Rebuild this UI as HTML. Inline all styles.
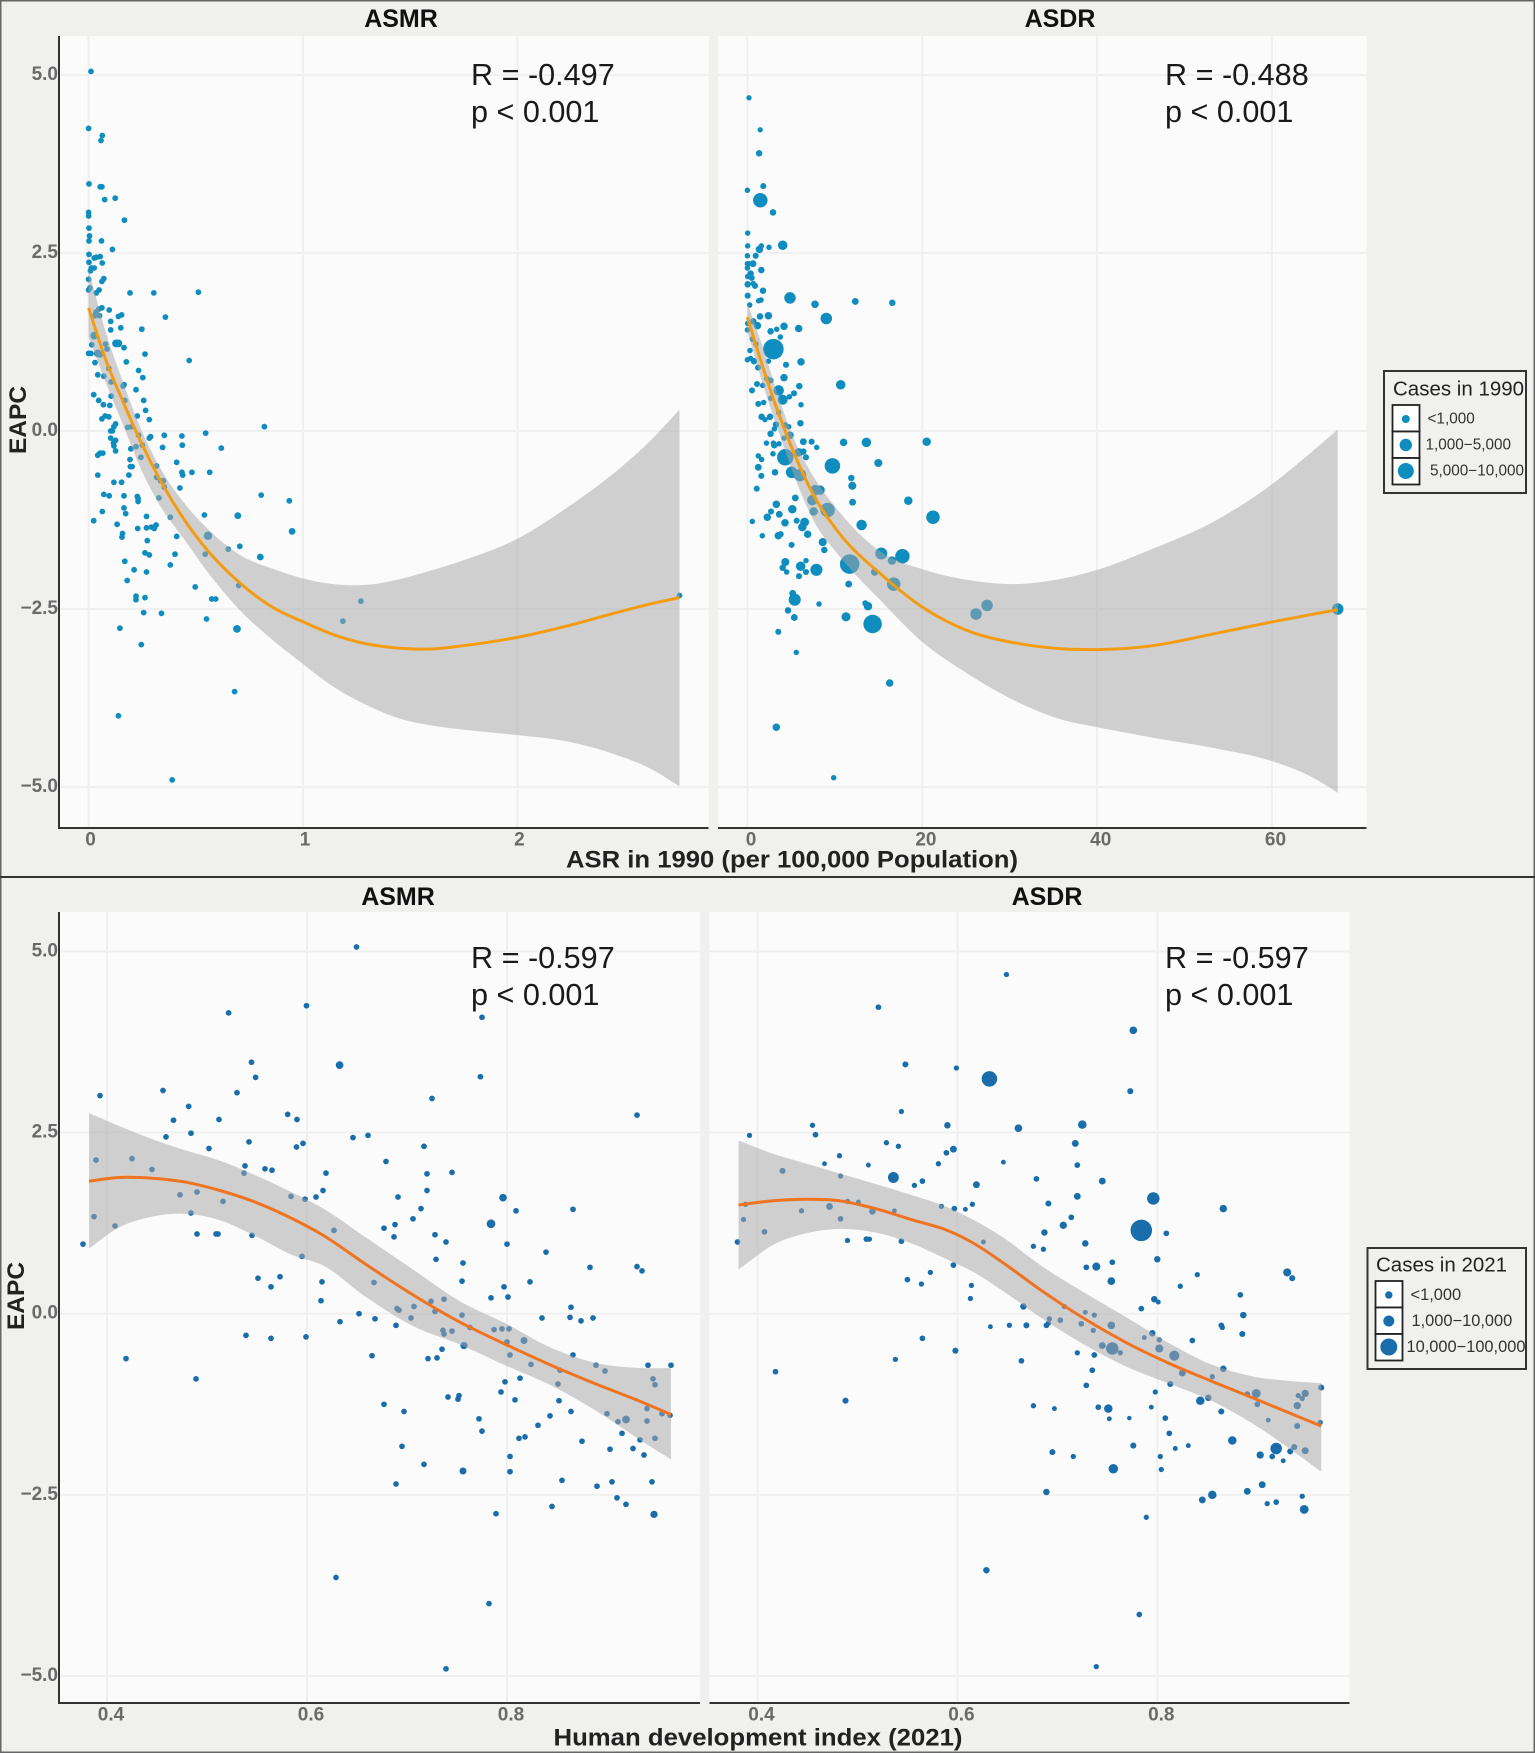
<!DOCTYPE html>
<html lang="en">
<head>
<meta charset="utf-8">
<title>EAPC versus ASR in 1990 and Human Development Index in 2021</title>
<style>
html,body{margin:0;padding:0;background:#f0f0ee}
svg{display:block;font-family:"Liberation Sans",sans-serif}
.strip{font-size:25px;font-weight:700;fill:#111;text-anchor:middle;dominant-baseline:central}
.axis-title{font-size:24.5px;font-weight:700;fill:#222;text-anchor:middle;dominant-baseline:central}
.annot{font-size:30.6px;fill:#1a1a1a;dominant-baseline:central}
.legend-title{font-size:20.5px;fill:#222;dominant-baseline:central}
.legend-label{fill:#333;dominant-baseline:central}
.tick{font-size:19px;font-weight:700;fill:#6a6a6a;dominant-baseline:central}
</style>
</head>
<body>
<svg id="figure" xmlns="http://www.w3.org/2000/svg" width="1535" height="1753" viewBox="0 0 1535 1753">
  <rect x="0.75" y="0.75" width="1533.5" height="1751.5" fill="#f0f0ee" stroke="#666" stroke-width="1.5"/>
  <line x1="0" y1="877" x2="1535" y2="877" stroke="#333" stroke-width="2"/>

  <g id="panel-layer"></g>

  <text class="strip" x="401" y="19">ASMR</text>
  <text class="strip" x="1060" y="19">ASDR</text>
  <text class="strip" x="398" y="897">ASMR</text>
  <text class="strip" x="1047" y="897">ASDR</text>

  <text class="axis-title" x="792" y="860" textLength="452" lengthAdjust="spacingAndGlyphs">ASR in 1990 (per 100,000 Population)</text>
  <text class="axis-title" x="758" y="1738" textLength="409" lengthAdjust="spacingAndGlyphs">Human development index (2021)</text>
  <text class="axis-title" transform="translate(18.5 420) rotate(-90)">EAPC</text>
  <text class="axis-title" transform="translate(16.5 1296) rotate(-90)">EAPC</text>

  <text class="annot" x="471" y="75">R = -0.497</text>
  <text class="annot" x="471" y="112">p &lt; 0.001</text>
  <text class="annot" x="1165" y="75">R = -0.488</text>
  <text class="annot" x="1165" y="112">p &lt; 0.001</text>
  <text class="annot" x="471" y="958">R = -0.597</text>
  <text class="annot" x="471" y="995">p &lt; 0.001</text>
  <text class="annot" x="1165" y="958">R = -0.597</text>
  <text class="annot" x="1165" y="995">p &lt; 0.001</text>

  <g>
    <rect x="1384" y="371" width="142" height="122" fill="#f0f0ee" stroke="#333" stroke-width="2"/>
    <text class="legend-title" x="1393" y="389">Cases in 1990</text>
    <rect x="1392.5" y="405" width="27" height="26.5" fill="#fff" stroke="#222" stroke-width="1.8"/>
    <rect x="1392.5" y="431.5" width="27" height="26.5" fill="#fff" stroke="#222" stroke-width="1.8"/>
    <rect x="1392.5" y="458" width="27" height="26.5" fill="#fff" stroke="#222" stroke-width="1.8"/>
    <circle cx="1405.8" cy="419" r="4" fill="#0f8dbf"/>
    <circle cx="1405.8" cy="445" r="6.2" fill="#0f8dbf"/>
    <circle cx="1405.8" cy="471" r="8" fill="#0f8dbf"/>
    <text class="legend-label" font-size="15.3" x="1427.5" y="419">&lt;1,000</text>
    <text class="legend-label" font-size="15.3" x="1425.5" y="445">1,000−5,000</text>
    <text class="legend-label" font-size="15.3" x="1430" y="471">5,000−10,000</text>
  </g>

  <g>
    <rect x="1367.5" y="1248" width="158.5" height="121" fill="#f0f0ee" stroke="#333" stroke-width="2"/>
    <text class="legend-title" x="1376" y="1265">Cases in 2021</text>
    <rect x="1375.5" y="1281" width="27" height="26.5" fill="#fff" stroke="#222" stroke-width="1.8"/>
    <rect x="1375.5" y="1307.5" width="27" height="26.5" fill="#fff" stroke="#222" stroke-width="1.8"/>
    <rect x="1375.5" y="1334" width="27" height="26.5" fill="#fff" stroke="#222" stroke-width="1.8"/>
    <circle cx="1388.8" cy="1295" r="3.7" fill="#1a6dab"/>
    <circle cx="1388.8" cy="1321" r="5.5" fill="#1a6dab"/>
    <circle cx="1388.8" cy="1347" r="8.5" fill="#1a6dab"/>
    <text class="legend-label" font-size="16.4" x="1410.5" y="1295">&lt;1,000</text>
    <text class="legend-label" font-size="16.4" x="1411.5" y="1321">1,000−10,000</text>
    <text class="legend-label" font-size="16.4" x="1406.5" y="1347">10,000−100,000</text>
  </g>
</svg>

<script>
const eapcTicks = [-5, -2.5, 0, 2.5, 5];
const eapcTickLabels = ['−5.0', '−2.5', '0.0', '2.5', '5.0'];
const asrMortalityTicks = [0, 1, 2];
const asrDalyTicks = [0, 20, 40, 60];
const hdiTicks = [0.4, 0.6, 0.8];

/* Panel 1: ASMR vs ASR in 1990 */
const asmr1990X = [.011,0,.064,.058,.002,.054,.062,.075,.124,0,0,.167,.002,.004,.002,.06,.111,.002,.054,.036,.026,.002,.064,.013,.026,.009,.071,.062,0,.006,0,.049,.036,.193,.304,.512,.062,.047,.096,.034,.03,.051,.358,.154,.139,.103,.15,.248,.103,.079,.015,.086,.165,.263,0,.011,.054,.176,.469,.03,.233,.043,.071,.253,.094,.105,.165,.161,.221,.024,.105,.047,.169,.257,.069,.099,.266,.077,.094,.227,.062,.283,.126,.118,.103,.201,.182,.111,.82,.546,.233,.289,.353,.435,.283,.103,.116,.126,.221,.197,.437,.619,.118,.126,.345,.251,.054,.066,.043,.244,.193,.411,.195,.203,.317,.435,.439,.482,.565,.043,.188,.317,.336,.349,.118,.154,.353,.426,.071,.096,.165,.805,.227,.231,.231,.328,.936,.165,.064,.173,.54,.27,.024,.381,.133,.315,.229,.27,.293,.306,.158,.156,.411,.274,.705,.651,.263,.283,.403,.544,.169,.212,.27,.381,.18,.497,.70,.221,.221,.263,.574,.593,.257,.34,1.27,.55,1.186,2.756,.146,.246,.681,.139,.39];
const asmr1990Y = [5.05,4.25,4.15,4.08,3.47,3.43,3.43,3.25,3.27,3.07,3.02,2.96,2.85,2.74,2.67,2.67,2.55,2.48,2.45,2.44,2.43,2.37,2.36,2.29,2.29,2.25,2.14,2.10,2.13,2.01,1.98,1.98,1.94,1.94,1.94,1.95,1.73,1.71,1.70,1.67,1.62,1.62,1.60,1.63,1.61,1.54,1.45,1.43,1.42,1.22,1.21,1.15,1.17,1.08,1.09,1.09,1.07,.97,.99,.96,.85,.79,.77,.75,.88,.69,.65,.63,.58,.51,.49,.43,.43,.43,.37,.36,.29,.21,.20,.21,.17,.16,.10,.06,0,.06,.05,0,.06,-.03,-.06,-.08,-.06,-.07,-.10,-.10,-.17,-.13,-.22,-.25,-.20,-.24,-.21,-.28,-.23,-.20,-.31,-.31,-.34,-.37,-.40,-.44,-.50,-.50,-.49,-.58,-.62,-.58,-.58,-.62,-.62,-.65,-.70,-.70,-.72,-.72,-.79,-.80,-.89,-.91,-.91,-.90,-.92,-.95,-.99,-.94,-.98,-1.08,-1.13,-1.16,-1.18,-1.20,-1.26,-1.21,-1.31,-1.32,-1.37,-1.36,-1.35,-1.37,-1.44,-1.49,-1.48,-1.54,-1.62,-1.66,-1.71,-1.74,-1.73,-1.73,-1.83,-1.95,-1.98,-1.88,-2.10,-2.19,-2.17,-2.32,-2.37,-2.34,-2.36,-2.36,-2.55,-2.56,-2.39,-2.64,-2.67,-2.31,-2.77,-3.0,-3.66,-4.0,-4.9];
const asmr1990SmallCases = 700;
const asmr1990LargerX = [.128,.139,.557,.692,.043,.026,.949,.801,.696];
const asmr1990LargerY = [1.23,1.23,-1.47,-2.78,1.09,1.34,-1.41,-1.77,-1.19];
const asmr1990LargerCases = [1300,1300,1600,1300,1300,1300,1000,1000,1000];
const asmr1990FitX = [0,.079,.165,.251,.336,.443,.55,.7,.872,.986,1.141,1.297,1.452,1.608,1.763,1.996,2.23,2.463,2.619,2.756];
const asmr1990Fit = [1.73,1.01,.38,-.20,-.70,-1.23,-1.66,-2.12,-2.50,-2.66,-2.86,-2.99,-3.05,-3.06,-3.01,-2.90,-2.74,-2.55,-2.43,-2.34];
const asmr1990Upper = [2.27,1.40,.65,-.02,-.53,-1.0,-1.36,-1.73,-1.95,-2.06,-2.15,-2.16,-2.08,-1.95,-1.80,-1.52,-1.08,-.56,-.14,.30];
const asmr1990Lower = [1.32,.69,.05,-.58,-1.06,-1.51,-1.96,-2.50,-2.97,-3.24,-3.59,-3.85,-4.04,-4.14,-4.20,-4.27,-4.36,-4.55,-4.74,-4.99];

/* Panel 2: ASDR vs ASR in 1990 */
const asdr1990X = [.18,1.46,1.34,1.82,0,1.48,2.93,.03,.03,2.47,
1.59,1.37,4.04,.95,0,0,.64,.22,0,1.59,
.37,.03,.49,.03,.68,.87,1.78,1.56,1.29,.03,
4.87,7.73,12.35,16.58,.26,9.03,1.44,2.40,.68,.03,
1.14,0,2.66,3.35,4.19,5.87,3.77,.56,.98,2.97,
.30,2.40,0,.37,.76,4.42,6.13,1.21,4.19,2.20,
2.66,1.10,1.75,5.94,10.67,.53,3.58,5.33,4.80,4.04,
2.66,1.25,1.86,6.13,1.63,2.01,2.59,3.58,3.27,3.08,
4.30,4.72,6.06,2.66,4.19,4.87,2.17,2.97,3.08,3.62,
6.40,7.35,7.93,11.01,13.61,20.51,1.25,1.63,2.93,4.34,
5.87,6.40,6.71,9.72,14.98,1.25,3.16,5.06,6.02,1.59,
11.89,1.06,12.0,5.48,12.04,18.41,3.31,2.70,5.14,3.65,
2.28,.56,4.30,5.64,6.55,6.28,21.24,1.71,3.54,3.81,
6.90,8.61,5.06,8.80,13.07,7.77,8.31,7.43,7.58,9.18,
15.32,16.54,17.73,11.70,14.56,16.74,6.71,4.34,4.04,4.49,
6.10,6.71,7.89,5.90,11.59,5.18,5.41,8.19,13.49,13.80,
4.65,5.37,11.28,14.33,3.54,5.60,16.28,3.31,26.16,27.42,
67.54,9.87];
const asdr1990Y = [4.68,4.23,3.90,3.44,3.38,3.24,3.07,2.78,2.60,2.58,
2.60,2.55,2.61,2.46,2.46,2.35,2.35,2.35,2.29,2.26,
2.21,2.17,2.15,2.06,2.07,2.04,1.97,1.84,1.83,1.90,
1.87,1.78,1.82,1.80,1.77,1.58,1.61,1.62,1.54,1.51,
1.48,1.42,1.40,1.43,1.47,1.44,1.32,1.29,1.22,1.15,
1.13,.98,1.0,1.02,.98,.93,.97,.89,.75,.74,
.71,.66,.64,.63,.65,.57,.57,.53,.48,.44,
.46,.38,.40,.37,.20,.16,.20,.26,.09,.03,
.08,.06,.11,-.04,-.10,-.06,-.17,-.17,-.20,-.18,
-.15,-.15,-.23,-.16,-.16,-.15,-.35,-.40,-.32,-.37,
-.30,-.29,-.37,-.49,-.45,-.51,-.58,-.58,-.62,-.63,
-.66,-.81,-.77,-.94,-1.0,-.98,-1.03,-1.13,-1.10,-1.17,
-1.21,-1.27,-1.29,-1.26,-1.28,-1.35,-1.21,-1.47,-1.47,-1.45,
-1.45,-1.56,-1.60,-1.67,-1.32,-.83,-.83,-.97,-1.13,-1.11,
-1.72,-1.82,-1.76,-1.87,-1.98,-2.15,-1.82,-1.84,-1.92,-1.98,
-1.90,-1.98,-1.95,-2.04,-2.15,-2.28,-2.37,-2.43,-2.42,-2.46,
-2.52,-2.62,-2.61,-2.71,-2.82,-3.11,-3.54,-4.16,-2.57,-2.45,
-2.5,-4.87];
const asdr1990Cases = [580,580,900,780,630,4900,900,630,630,630,
630,1230,2030,780,630,630,1020,630,630,900,
900,630,780,900,630,780,900,630,630,780,
3030,1230,1020,900,630,3030,900,1230,900,630,
1230,630,900,630,1230,1230,630,630,630,10000,
630,630,630,630,900,780,1230,780,1230,630,
780,780,630,900,2030,780,2500,780,630,2300,
630,780,630,630,900,630,900,630,900,630,
900,630,900,900,630,1230,630,630,900,630,
1020,780,630,1230,2030,1600,630,630,630,6400,
1600,900,780,5630,1440,1020,900,3030,3600,780,
900,780,1440,1020,1020,1600,1230,780,1600,1020,
1230,630,1230,780,1760,1600,4230,630,1230,780,
1230,1440,780,900,2500,2500,2030,2500,1600,4900,
3360,1600,4900,9030,1230,4230,630,1440,900,630,
2030,780,3360,780,1020,1020,3360,630,780,1600,
900,1020,1850,8100,780,630,1230,1230,3030,3030,
3030,630];
const asdr1990FitX = [0,1.89,3.71,5.54,7.67,10.41,15.55,19.98,25.09,30.81,36.15,40.04,46.07,53.7,60.1,64.4,67.54];
const asdr1990Fit = [1.60,.85,.20,-.37,-.92,-1.42,-2.04,-2.47,-2.80,-2.98,-3.06,-3.07,-3.02,-2.84,-2.68,-2.58,-2.51];
const asdr1990Upper = [1.80,1.13,.42,-.17,-.66,-1.12,-1.72,-1.94,-2.09,-2.15,-2.07,-1.95,-1.67,-1.25,-.74,-.31,.02];
const asdr1990Lower = [1.40,.61,-.06,-.69,-1.28,-1.74,-2.42,-2.96,-3.40,-3.80,-4.06,-4.16,-4.30,-4.46,-4.64,-4.85,-5.08];

/* Panel 3: ASMR vs HDI 2021 */
const asmrHdiX = [.6495,.5995,.5216,.775,.5445,.5486,.7734,.456,.53,.393,.725,.4817,.5807,.93,.59,.4665,.512,.459,.484,.646,.661,.717,.502,.5895,.596,.542,.389,.425,.679,.445,.538,.537,.558,.565,.619,.72,.745,.616,.72,.49,.473,.584,.598,.609,.691,.516,.484,.387,.714,.866,.809,.706,.408,.677,.688,.627,.49,.509,.511,.545,.728,.687,.376,.739,.80,.839,.595,.729,.756,.883,.93,.935,.551,.573,.615,.667,.755,.823,.564,.797,.784,.801,.614,.724,.737,.69,.692,.707,.864,.728,.652,.755,.704,.668,.835,.863,.886,.874,.633,.689,.763,.787,.795,.802,.745,.736,.737,.539,.564,.599,.80,.735,.665,.803,.866,.721,.73,.419,.824,.889,.941,.964,.898,.853,.489,.813,.798,.946,.948,.851,.794,.741,.752,.751,.852,.808,.677,.94,.697,.864,.955,.963,.843,.90,.772,.911,.94,.831,.775,.915,.812,.818,.875,.933,.948,.695,.903,.926,.937,.803,.717,.803,.689,.855,.905,.945,.89,.91,.845,.919,.789,.629,.782,.739];
const asmrHdiY = [5.06,4.25,4.15,4.09,3.47,3.26,3.27,3.08,3.05,3.01,2.97,2.86,2.75,2.74,2.68,2.67,2.68,2.44,2.49,2.43,2.46,2.31,2.28,2.30,2.35,2.37,2.12,2.14,2.10,1.99,2.04,1.94,2.0,1.98,1.94,1.93,1.95,1.70,1.70,1.68,1.64,1.62,1.58,1.61,1.61,1.55,1.39,1.34,1.45,1.44,1.42,1.31,1.21,1.18,1.23,1.15,1.10,1.10,1.10,1.08,1.09,1.06,.96,.99,.96,.85,.79,.75,.70,.64,.65,.59,.49,.51,.44,.43,.45,.44,.37,.37,.22,.23,.18,.17,.20,.07,.05,.10,.09,.03,0,-.02,-.06,-.07,-.06,-.05,-.06,-.10,-.11,-.16,-.19,-.22,-.21,-.21,-.24,-.23,-.28,-.30,-.34,-.32,-.39,-.49,-.58,-.57,-.57,-.62,-.61,-.62,-.70,-.71,-.71,-.71,-.79,-.78,-.90,-.89,-.94,-.90,-.98,-.97,-1.08,-1.15,-1.13,-1.18,-1.20,-1.19,-1.25,-1.31,-1.35,-1.35,-1.38,-1.40,-1.41,-1.38,-1.45,-1.49,-1.48,-1.54,-1.62,-1.65,-1.72,-1.70,-1.76,-1.74,-1.72,-1.83,-1.87,-1.86,-1.95,-1.97,-2.08,-2.18,-2.35,-2.30,-2.32,-2.32,-2.38,-2.54,-2.66,-2.63,-2.76,-3.64,-4.0,-4.90];
const asmrHdiSmallCases = 680;
const asmrHdiLargerX = [.6326,.796,.784,.757,.756,.947,.919,.817];
const asmrHdiLargerY = [3.43,1.60,1.24,-.44,-2.17,-2.77,-1.46,-.37];
const asmrHdiLargerCases = [1300,1300,1700,1150,1050,1150,1300,1050];
const asmrHdiFitX = [.382,.412,.445,.477,.513,.55,.587,.614,.66,.706,.752,.798,.844,.889,.935,.964];
const asmrHdiFit = [1.83,1.88,1.87,1.82,1.70,1.53,1.30,1.10,.67,.26,-.11,-.42,-.71,-.97,-1.22,-1.39];
const asmrHdiUpper = [2.77,2.59,2.41,2.26,2.11,1.90,1.66,1.47,1.04,.61,.18,-.13,-.47,-.68,-.75,-.75];
const asmrHdiLower = [.90,1.19,1.34,1.38,1.29,1.06,.80,.68,.22,-.17,-.42,-.71,-.99,-1.34,-1.76,-2.01];

/* Panel 4: ASDR vs HDI 2021 */
const asdrHdiX = [.649,.521,.776,.548,.599,.632,.773,.544,.661,.455,
.59,.725,.392,.458,.529,.541,.718,.596,.589,.482,
.72,.646,.467,.511,.581,.425,.483,.679,.536,.745,
.565,.557,.619,.72,.796,.49,.501,.388,.691,.615,
.584,.472,.866,.444,.597,.608,.515,.537,.714,.386,
.483,.706,.407,.809,.687,.784,.509,.512,.49,.544,
.626,.38,.676,.728,.686,.80,.755,.596,.729,.739,
.93,.935,.84,.573,.55,.564,.754,.823,.614,.883,
.613,.797,.801,.707,.666,.784,.728,.737,.886,.692,
.703,.689,.691,.669,.652,.633,.724,.754,.864,.865,
.736,.885,.795,.787,.802,.835,.565,.598,.755,.745,
.763,.802,.817,.72,.737,.538,.664,.866,.735,.418,
.825,.855,.813,.798,.729,.89,.899,.941,.948,.945,
.964,.851,.843,.488,.90,.94,.676,.697,.741,.751,
.794,.864,.752,.772,.808,.911,.963,.94,.812,.875,
.776,.831,.818,.937,.948,.919,.933,.695,.716,.903,
.915,.926,.803,.756,.804,.905,.689,.89,.855,.845,
.945,.91,.919,.947,.789,.629,.782,.739];
const asdrHdiY = [4.68,4.23,3.91,3.44,3.39,3.24,3.07,2.79,2.56,2.60,
2.60,2.61,2.46,2.47,2.36,2.31,2.35,2.27,2.22,2.18,
2.05,2.09,2.07,2.05,2.07,1.97,1.90,1.86,1.88,1.83,
1.83,1.77,1.78,1.62,1.59,1.55,1.54,1.51,1.52,1.51,
1.48,1.48,1.45,1.42,1.45,1.44,1.41,1.42,1.33,1.30,
1.31,1.22,1.13,1.11,1.12,1.15,1.03,1.03,1.01,1.0,
.99,.99,.93,.97,.89,.75,.71,.67,.64,.65,
.57,.49,.54,.57,.47,.41,.45,.38,.39,.26,
.21,.20,.16,.10,.10,.07,.02,-.02,-.02,-.07,
-.09,-.16,-.13,-.16,-.16,-.18,-.14,-.16,-.16,-.19,
-.23,-.28,-.27,-.33,-.36,-.37,-.34,-.51,-.48,-.44,
-.54,-.48,-.58,-.54,-.57,-.63,-.65,-.76,-.78,-.80,
-.82,-.87,-.97,-1.08,-.99,-1.11,-1.10,-1.13,-1.10,-1.17,
-1.02,-1.16,-1.20,-1.20,-1.25,-1.27,-1.27,-1.31,-1.29,-1.31,
-1.29,-1.35,-1.45,-1.44,-1.44,-1.47,-1.50,-1.55,-1.65,-1.75,
-1.82,-1.82,-1.86,-1.84,-1.89,-1.86,-1.90,-1.91,-1.97,-1.95,
-1.97,-2.03,-1.97,-2.14,-2.15,-2.36,-2.46,-2.45,-2.50,-2.57,
-2.52,-2.62,-2.60,-2.70,-2.81,-3.54,-4.15,-4.87];
const asdrHdiCases = [580,680,1300,780,580,5630,780,580,1300,580,
900,1600,580,680,580,580,1020,1020,680,580,
680,480,480,480,580,780,580,680,2700,1020,
680,580,1020,1020,3600,580,480,580,780,580,
580,1020,1230,580,680,480,900,480,680,580,
680,1160,680,680,900,11030,680,580,580,680,
480,680,580,900,580,900,680,680,680,1440,
1440,780,580,580,680,580,1300,580,580,680,
580,900,480,580,900,680,480,580,900,580,
680,680,580,780,580,480,680,1300,680,580,
580,780,900,480,580,680,680,780,3600,1020,
580,1440,2300,580,680,580,680,900,680,680,
1020,580,780,580,680,680,1760,580,1160,580,
780,900,1600,780,680,1160,580,480,680,1600,
480,780,480,400,680,480,580,780,680,1600,
780,480,480,780,1020,3030,780,780,580,1160,
680,480,580,2030,580,1020,900,1020,1600,1020,
580,580,680,1760,580,900,680,580];
const asdrHdiFitX = [.381,.417,.449,.481,.518,.556,.588,.614,.646,.683,.726,.769,.811,.854,.897,.934,.964];
const asdrHdiFit = [1.50,1.56,1.58,1.56,1.45,1.29,1.16,.99,.70,.33,-.06,-.40,-.68,-.93,-1.17,-1.38,-1.55];
const asdrHdiUpper = [2.39,2.20,2.07,1.94,1.79,1.63,1.48,1.31,1.05,.67,.30,-.05,-.40,-.70,-.87,-.93,-.96];
const asdrHdiLower = [.61,.96,1.11,1.17,1.12,.96,.76,.59,.31,-.05,-.42,-.73,-.96,-1.20,-1.53,-1.88,-2.18];

const NS = 'http://www.w3.org/2000/svg';
const panelLayer = document.getElementById('panel-layer');

function make(parent, tag, attrs) {
  const el = document.createElementNS(NS, tag);
  for (const k in attrs) el.setAttribute(k, attrs[k]);
  parent.appendChild(el);
  return el;
}

/* Cubic Hermite through points ordered along x, with tangents from a three-point parabola
   so unevenly spaced points do not introduce wobble. */
function smoothPath(pts, continuing) {
  const n = pts.length;
  const slopes = [];
  for (let i = 0; i < n - 1; i++) slopes.push((pts[i + 1][1] - pts[i][1]) / (pts[i + 1][0] - pts[i][0]));
  const tangents = pts.map((pt, i) => {
    if (i === 0) return slopes[0];
    if (i === n - 1) return slopes[n - 2];
    const h0 = Math.abs(pts[i][0] - pts[i - 1][0]);
    const h1 = Math.abs(pts[i + 1][0] - pts[i][0]);
    return (h0 * slopes[i] + h1 * slopes[i - 1]) / (h0 + h1);
  });
  let d = (continuing ? 'L' : 'M') + pts[0][0].toFixed(1) + ' ' + pts[0][1].toFixed(1);
  for (let i = 0; i < n - 1; i++) {
    const dx = pts[i + 1][0] - pts[i][0];
    const c1x = pts[i][0] + dx / 3;
    const c1y = pts[i][1] + tangents[i] * dx / 3;
    const c2x = pts[i + 1][0] - dx / 3;
    const c2y = pts[i + 1][1] - tangents[i + 1] * dx / 3;
    d += 'C' + c1x.toFixed(1) + ' ' + c1y.toFixed(1) + ' ' + c2x.toFixed(1) + ' ' + c2y.toFixed(1) + ' ' + pts[i + 1][0].toFixed(1) + ' ' + pts[i + 1][1].toFixed(1);
  }
  return d;
}

function radiusFromCases(cases) {
  return 0.1 * Math.sqrt(cases) + 0.25;
}

function drawPoints(group, xs, ys, casesFor, sx, sy, color) {
  const n = Math.min(xs.length, ys.length);
  for (let i = 0; i < n; i++) {
    const dot = make(group, 'circle', {cx: sx(xs[i]).toFixed(1), cy: sy(ys[i]).toFixed(1), r: radiusFromCases(casesFor(i)).toFixed(2), fill: color});
    
    
  }
}

function drawPanel(p) {
  const sx = v => p.xOrigin + (v - p.xBase) * p.xUnit;
  const sy = v => p.yZero - v * p.yUnit;
  const g = make(panelLayer, 'g', {});
  
  

  const bg = make(g, 'rect', {x: p.left, y: p.top, width: p.right - p.left, height: p.bottom - p.top, fill: '#fbfbfb'});
  
  

  eapcTicks.forEach((t, i) => {
    const grid = make(g, 'line', {x1: p.left, x2: p.right, y1: sy(t), y2: sy(t), stroke: '#f0f0f0', 'stroke-width': 2});
    
    
    if (p.showY) {
      const lab = make(g, 'text', {class: 'tick', x: p.left - 1, y: sy(t) - 0.5, 'text-anchor': 'end'});
      
      
      lab.textContent = eapcTickLabels[i];
    }
  });
  p.xTicks.forEach(t => {
    const grid = make(g, 'line', {x1: sx(t), x2: sx(t), y1: p.top, y2: p.bottom, stroke: '#f0f0f0', 'stroke-width': 2});
    
    
    const lab = make(g, 'text', {class: 'tick', x: sx(t) + p.labelShift, y: p.bottom + 12, 'text-anchor': 'middle'});
    
    
    lab.textContent = p.xFormat(t);
  });

  const marks = make(g, 'g', {});
  
  
  p.series.forEach(s => drawPoints(marks, s.x, s.y, s.cases, sx, sy, p.color));

  const up = p.fitX.map((x, i) => [sx(x), sy(p.upper[i])]);
  const lo = p.fitX.map((x, i) => [sx(x), sy(p.lower[i])]).reverse();
  const ribbon = make(g, 'path', {d: smoothPath(up) + smoothPath(lo, true) + 'Z', fill: 'rgb(168,166,168)', 'fill-opacity': 0.52});
  
  

  const line = make(g, 'path', {d: smoothPath(p.fitX.map((x, i) => [sx(x), sy(p.fit[i])])), fill: 'none', stroke: p.lineColor, 'stroke-width': 3});
  
  

  if (p.showY) {
    const yAxis = make(g, 'line', {x1: p.left, x2: p.left, y1: p.top, y2: p.bottom + 1, stroke: '#333', 'stroke-width': 2});
    
    
  }
  const xAxis = make(g, 'line', {x1: p.left, x2: p.right, y1: p.bottom, y2: p.bottom, stroke: '#333', 'stroke-width': 2});
  
  
}

const integerLabel = t => String(t);
const decimalLabel = t => t.toFixed(1);

drawPanel({
  name: 'panel-asmr-1990', left: 59, right: 708.5, top: 36, bottom: 828, showY: true,
  xOrigin: 88.6, xBase: 0, xUnit: 214.4, yZero: 431, yUnit: 71.2, labelShift: 2,
  xTicks: asrMortalityTicks, xFormat: integerLabel, color: '#0f8dbf', lineColor: '#f39c12',
  series: [
    {x: asmr1990X, y: asmr1990Y, cases: () => asmr1990SmallCases},
    {x: asmr1990LargerX, y: asmr1990LargerY, cases: i => asmr1990LargerCases[i]}
  ],
  fitX: asmr1990FitX, fit: asmr1990Fit, upper: asmr1990Upper, lower: asmr1990Lower
});
drawPanel({
  name: 'panel-asdr-1990', left: 718, right: 1366.5, top: 36, bottom: 828, showY: false,
  xOrigin: 747.4, xBase: 0, xUnit: 8.74, yZero: 431, yUnit: 71.2, labelShift: 3.7,
  xTicks: asrDalyTicks, xFormat: integerLabel, color: '#0f8dbf', lineColor: '#f39c12',
  series: [{x: asdr1990X, y: asdr1990Y, cases: i => asdr1990Cases[i] || 630}],
  fitX: asdr1990FitX, fit: asdr1990Fit, upper: asdr1990Upper, lower: asdr1990Lower
});
drawPanel({
  name: 'panel-asmr-2021', left: 59, right: 700, top: 912, bottom: 1703, showY: true,
  xOrigin: 107, xBase: 0.4, xUnit: 1000, yZero: 1313.7, yUnit: 72.47, labelShift: 4,
  xTicks: hdiTicks, xFormat: decimalLabel, color: '#1a6dab', lineColor: '#ee7421',
  series: [
    {x: asmrHdiX, y: asmrHdiY, cases: () => asmrHdiSmallCases},
    {x: asmrHdiLargerX, y: asmrHdiLargerY, cases: i => asmrHdiLargerCases[i]}
  ],
  fitX: asmrHdiFitX, fit: asmrHdiFit, upper: asmrHdiUpper, lower: asmrHdiLower
});
drawPanel({
  name: 'panel-asdr-2021', left: 709.5, right: 1349.5, top: 912, bottom: 1703, showY: false,
  xOrigin: 757.5, xBase: 0.4, xUnit: 999.5, yZero: 1313.7, yUnit: 72.47, labelShift: 4,
  xTicks: hdiTicks, xFormat: decimalLabel, color: '#1a6dab', lineColor: '#ee7421',
  series: [{x: asdrHdiX, y: asdrHdiY, cases: i => asdrHdiCases[i] || 630}],
  fitX: asdrHdiFitX, fit: asdrHdiFit, upper: asdrHdiUpper, lower: asdrHdiLower
});
</script>
</body>
</html>
